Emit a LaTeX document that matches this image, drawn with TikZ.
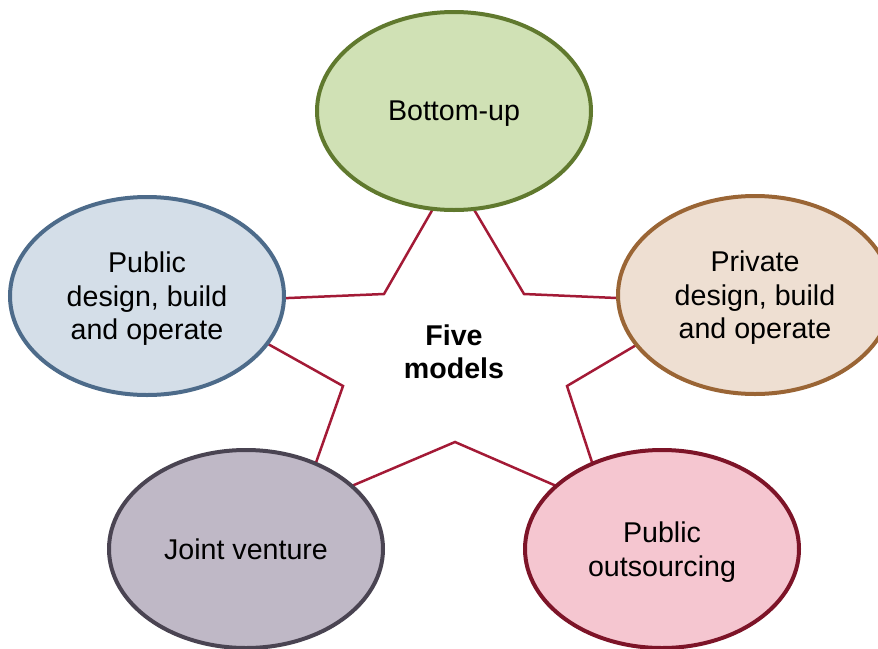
\documentclass[tikz,border=0pt]{standalone}
\usepackage{fontspec}
\setmainfont{Liberation Sans}
\usetikzlibrary{backgrounds, shapes.geometric}
\definecolor{starline}{RGB}{163,26,54}
\definecolor{bufill}{RGB}{208,225,181}
\definecolor{buline}{RGB}{96,121,46}
\definecolor{pubfill}{RGB}{212,222,232}
\definecolor{publine}{RGB}{77,107,138}
\definecolor{privfill}{RGB}{238,223,210}
\definecolor{privline}{RGB}{154,101,53}
\definecolor{jvfill}{RGB}{191,184,198}
\definecolor{jvline}{RGB}{74,68,82}
\definecolor{outfill}{RGB}{245,198,208}
\definecolor{outline}{RGB}{125,20,40}
\tikzstyle{model}=[ellipse, line width=2pt, minimum width=137pt, minimum height=99pt, inner sep=0pt, text depth=-2pt, align=center, font=\fontsize{14.3}{16.75}\selectfont]
\tikzstyle{star}=[draw=starline, line width=1.25pt]

\begin{document}
\begin{tikzpicture}[x=0.5pt, y=-0.5pt]
    \useasboundingbox (0,0) rectangle (878,648);

    % star points and inner corners
    \coordinate (tip0) at (453,174);
    \coordinate (tip1) at (709,302);
    \coordinate (tip2) at (607,508);
    \coordinate (tip3) at (300,508);
    \coordinate (tip4) at (193,302);
    \coordinate (in0) at (524,294);
    \coordinate (in1) at (567,386);
    \coordinate (in2) at (455,442);
    \coordinate (in3) at (343,386);
    \coordinate (in4) at (384,294);

    \node[model, draw=buline, fill=bufill] (bottomup) at (454,111) {Bottom-up};
    \node[model, draw=publine, fill=pubfill] (pubdbo) at (147,296) {Public\\design, build\\and operate};
    \node[model, draw=privline, fill=privfill] (privdbo) at (755,295) {Private\\design, build\\and operate};
    \node[model, draw=jvline, fill=jvfill, text depth=0pt] (joint) at (246,549) {Joint venture};
    \node[model, draw=outline, fill=outfill] (outsrc) at (662,549) {Public\\outsourcing};

    \node[align=center, font=\fontsize{14.3}{16.75}\selectfont\bfseries] (five) at (454,352) {Five\\models};

    \begin{scope}[on background layer]
      \draw[star] (tip0) -- (in0) -- (tip1) -- (in1) -- (tip2) -- (in2)
        -- (tip3) -- (in3) -- (tip4) -- (in4) -- cycle;
    \end{scope}
  \end{tikzpicture}
\end{document}
